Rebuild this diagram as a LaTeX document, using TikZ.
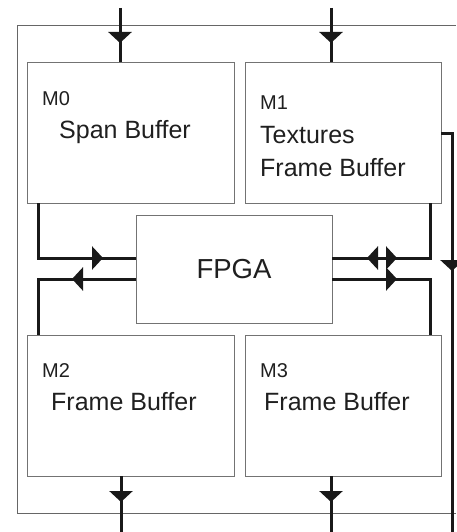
\documentclass[tikz,border=0pt]{standalone}
\usepackage{fontspec}
\setmainfont{Liberation Sans}
\usetikzlibrary{arrows.meta,decorations.markings}

\tikzset{
  membox/.style={draw=black!55,line width=0.9pt,minimum width=#1,minimum height=141pt,inner sep=0pt,outer sep=0pt},
  bus/.style={line width=3pt,draw=black!90},
  tipat/.style={postaction={decorate,decoration={markings,mark=at position #1 with {\arrow{Triangle[width=23pt,length=11pt]}}}}},
  tipback/.style={postaction={decorate,decoration={markings,mark=at position #1 with {\arrowreversed{Triangle[width=23pt,length=11pt]}}}}},
  idlabel/.style={font=\fontsize{20}{24}\selectfont,anchor=base west,text=black!88,inner sep=0pt},
  memlabel/.style={font=\fontsize{25}{30}\selectfont,anchor=base west,text=black!88,inner sep=0pt},
}

\begin{document}
\begin{tikzpicture}[x=1pt,y=-1pt]
    \useasboundingbox (0,0) rectangle (456,532);
    % frame
    \draw[black!60,line width=0.9pt] (456,25) -- (17,25) -- (17,513) -- (456,513);
    % memories and fpga
    \node[membox=207pt] (M0) at (130.5,132.5) {};
    \node[membox=196pt] (M1) at (343,132.5) {};
    \node[membox=207pt] (M2) at (130.5,405.5) {};
    \node[membox=196pt] (M3) at (343,405.5) {};
    \node[draw=black!55,line width=0.9pt,minimum width=196pt,minimum height=108pt,inner sep=0pt,outer sep=0pt,
          font=\fontsize{27.5}{32}\selectfont,text=black!88] (FPGA) at (234,269) {FPGA};
    % labels
    \node[idlabel] (M0id) at (42,106) {M0};
    \node[memlabel] (M0txt) at (59,139) {Span Buffer};
    \node[idlabel] (M1id) at (260,110) {M1};
    \node[memlabel] (M1txt) at (260,143) {Textures};
    \node[memlabel] (M1txtb) at (260,176) {Frame Buffer};
    \node[idlabel] (M2id) at (42,377) {M2};
    \node[memlabel] (M2txt) at (51,410) {Frame Buffer};
    \node[idlabel] (M3id) at (260,377) {M3};
    \node[memlabel] (M3txt) at (264,410) {Frame Buffer};
    % inputs and outputs
    \foreach \n/\x/\mem in {0/120/M0, 1/331/M1}
    {
      \coordinate (in\n) at (\x,8);
      \draw[bus,tipat=35pt] (in\n) -- (in\n |- \mem.north);
    }
    \foreach \n/\x/\mem in {2/121/M2, 3/331/M3}
    {
      \coordinate (out\n) at (\x,532);
      \draw[bus,tipat=26pt] (out\n |- \mem.south) -- (out\n);
    }
    \coordinate (out1) at (452,532);
    \draw[bus,tipat=149pt] (M1.east |- 0,133) -| (out1);
    % links to the fpga
    \draw[bus,tipat=120pt] (M0.south -| 38,0) |- ([yshift=11pt]FPGA.west);
    \draw[bus,tipat=64pt] ([yshift=-10pt]FPGA.west) -| (M2.north -| 38,0);
    \draw[bus,tipback=35pt,tipat=65pt] ([yshift=11pt]FPGA.east) -| (M1.south -| 430,0);
    \draw[bus,tipat=65pt] ([yshift=-10pt]FPGA.east) -| (M3.north -| 430,0);
\end{tikzpicture}
\end{document}
